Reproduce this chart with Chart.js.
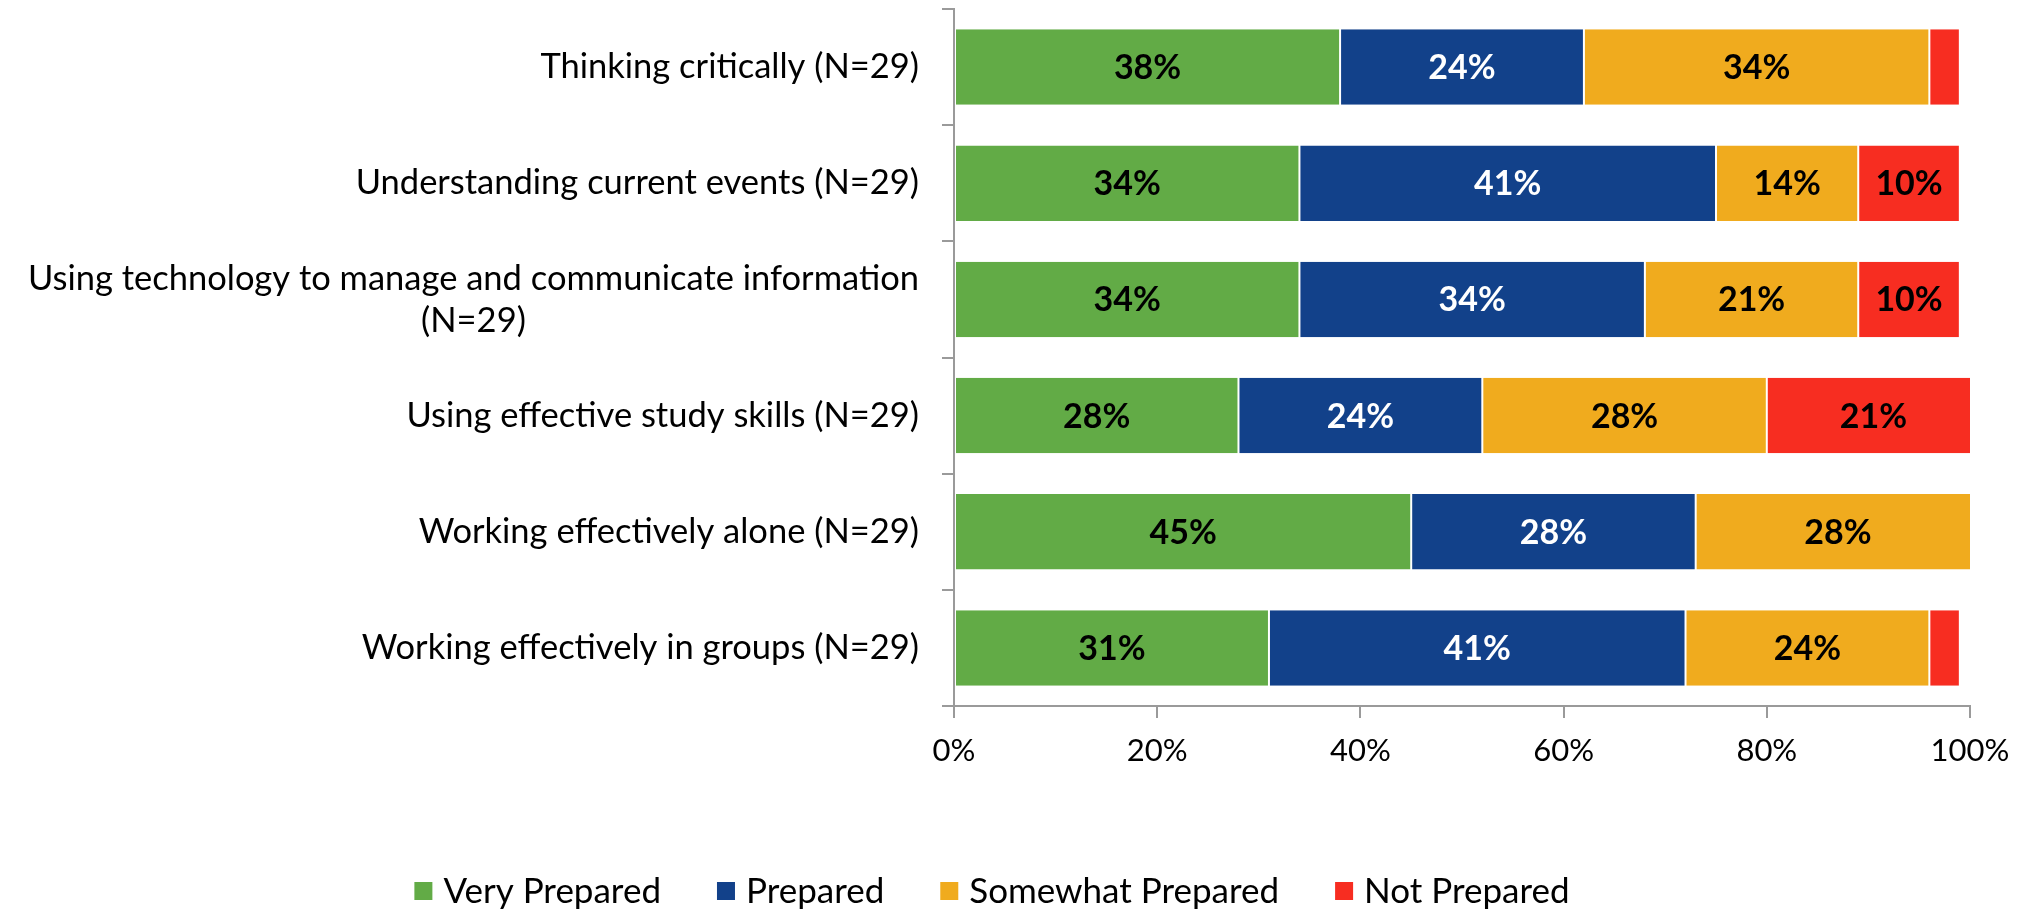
<!DOCTYPE html>
<html>
<head>
<meta charset="utf-8">
<script src="https://cdn.jsdelivr.net/npm/chart.js@4"></script>
<style>
  html, body { margin: 0; padding: 0; background: #fff; }
  #wrap { width: 2030px; height: 910px; }
</style>
</head>
<body>
<div id="wrap"><canvas id="prepChart" width="2030" height="910"></canvas></div>
<script>
// Chart data
const categories = [
  ['Thinking critically (N=29)'],
  ['Understanding current events (N=29)'],
  ['Using technology to manage and communicate information', '(N=29)'],
  ['Using effective study skills (N=29)'],
  ['Working effectively alone (N=29)'],
  ['Working effectively in groups (N=29)']
];
const seriesNames = ['Very Prepared', 'Prepared', 'Somewhat Prepared', 'Not Prepared'];
const veryPrepared = [38, 34, 34, 28, 45, 31];
const prepared = [24, 41, 34, 24, 28, 41];
const somewhatPrepared = [34, 14, 21, 28, 28, 24];
const notPrepared = [3, 10, 10, 21, 0, 3];
const xTicks = [0, 20, 40, 60, 80, 100];

const colors = ['#62ab46', '#12418a', '#f0ab1e', '#f72d21'];
const labelColors = ['#000', '#fff', '#000', '#000'];
const FONT = 'Lato, "Open Sans", sans-serif';

// draws y labels (centered lines, right-aligned block), value labels and legend
const drawExtras = {
  id: 'drawExtras',
  afterDatasetsDraw(chart) {
    const ctx = chart.ctx;
    const yScale = chart.scales.y;
    ctx.save();

    // value labels
    ctx.font = 'bold 34px ' + FONT;
    ctx.textAlign = 'center';
    ctx.textBaseline = 'middle';
    chart.data.datasets.forEach((ds, di) => {
      chart.getDatasetMeta(di).data.forEach((bar, i) => {
        const v = ds.data[i];
        if (v < 5) return;
        ctx.fillStyle = labelColors[di];
        ctx.fillText(v + '%', (bar.x + bar.base) / 2, bar.y + 1);
      });
    });

    // category labels
    ctx.font = '34.5px ' + FONT;
    ctx.fillStyle = '#000';
    const rightEdge = 919;
    const lineH = 42;
    categories.forEach((lines, i) => {
      const cy = yScale.getPixelForValue(i);
      const widths = lines.map(l => ctx.measureText(l).width);
      const maxW = Math.max(...widths);
      const cx = rightEdge - maxW / 2;
      lines.forEach((l, k) => {
        const y = cy + (k - (lines.length - 1) / 2) * lineH;
        ctx.fillText(l, cx, y);
      });
    });

    // legend
    ctx.font = '35px ' + FONT;
    const box = 18, gap = 11, spacing = 56;
    const items = chart.data.datasets.map(d => ({ text: d.label, color: d.backgroundColor }));
    const widths = items.map(it => box + gap + ctx.measureText(it.text).width);
    const total = widths.reduce((a, b) => a + b, 0) + spacing * (items.length - 1);
    let x = 992 - total / 2;
    const ly = 891;
    ctx.textAlign = 'left';
    items.forEach((it, k) => {
      ctx.fillStyle = it.color;
      ctx.fillRect(x, ly - box / 2, box, box);
      ctx.fillStyle = '#000';
      ctx.fillText(it.text, x + box + gap, ly + 1);
      x += widths[k] + spacing;
    });

    ctx.restore();
  }
};

const seriesData = [veryPrepared, prepared, somewhatPrepared, notPrepared];

new Chart(document.getElementById('prepChart'), {
  type: 'bar',
  data: {
    labels: categories.map(c => c.join(' ')),
    datasets: seriesNames.map((name, i) => ({
      label: name,
      data: seriesData[i],
      backgroundColor: colors[i],
      borderColor: '#ffffff',
      borderWidth: { left: 1, right: 1, top: 0, bottom: 0 },
      borderSkipped: false,
      categoryPercentage: 1,
      barPercentage: 0.65
    }))
  },
  options: {
    indexAxis: 'y',
    responsive: false,
    animation: false,
    devicePixelRatio: 1,
    layout: { padding: { top: 9, right: 60, left: 0, bottom: 0 } },
    plugins: {
      legend: { display: false },
      tooltip: { enabled: false }
    },
    scales: {
      x: {
        stacked: true,
        min: 0,
        max: 100,
        afterBuildTicks(scale) { scale.ticks = xTicks.map(v => ({ value: v })); },
        afterFit(scale) { scale.height = 204; },
        border: { display: true, color: '#9a9a9a', width: 2 },
        grid: { drawOnChartArea: false, drawTicks: true, tickLength: 12, color: '#9a9a9a', lineWidth: 2 },
        ticks: {
          padding: 14,
          color: '#000',
          font: { family: FONT, size: 31 },
          callback: v => v + '%'
        }
      },
      y: {
        stacked: true,
        afterFit(scale) { scale.width = 954; },
        border: { display: true, color: '#9a9a9a', width: 2 },
        grid: { drawOnChartArea: false, drawTicks: true, tickLength: 12, color: '#9a9a9a', lineWidth: 2, offset: true },
        ticks: { display: false }
      }
    }
  },
  plugins: [drawExtras]
});
</script>
</body>
</html>
